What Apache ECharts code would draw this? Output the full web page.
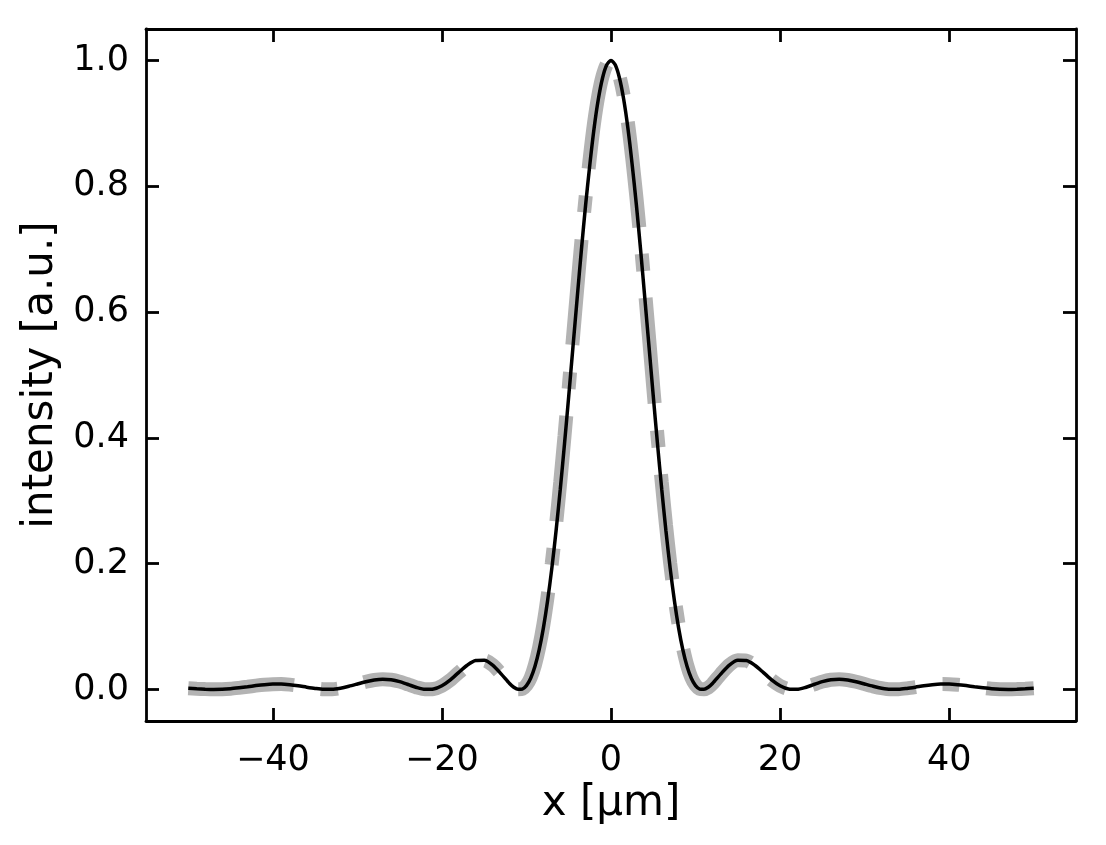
<!DOCTYPE html>
<html>
<head>
<meta charset="utf-8">
<script src="https://cdn.jsdelivr.net/npm/echarts@6/dist/echarts.min.js"></script>
<style>
html,body{margin:0;padding:0;background:#fff;}
#chart{width:1106px;height:845px;}
</style>
</head>
<body>
<div id="chart"></div>
<script>
// x positions [µm]
const xPos = [
  -50,-49,-48,-47,-46,-45,-44,-43,-42,-41,-40,-39,-38,-37,-36,-35,-34,-33,-32,-31,
  -30,-29,-28,-27,-26,-25,-24,-23,-22,-21,-20,-19,-18,-17,-16,-15,-14,-13,-12,
  -11.5,-11,-10.5,-10,-9.5,-9,-8.5,-8,-7.5,-7,-6.5,-6,-5.5,-5,-4.5,-4,-3.5,-3,-2.5,-2,-1.5,-1,-0.5,
  0,
  0.5,1,1.5,2,2.5,3,3.5,4,4.5,5,5.5,6,6.5,7,7.5,8,8.5,9,9.5,10,10.5,11,11.5,
  12,13,14,15,16,17,18,19,20,21,22,23,24,25,26,27,28,29,30,
  31,32,33,34,35,36,37,38,39,40,41,42,43,44,45,46,47,48,49,50
];

// black solid curve
const intensityLine = [
  0.0021,0.0013,0.0006,0.0002,0.0004,0.0013,0.0028,0.0045,0.0063,0.0078,0.0087,0.0087,0.0077,0.0060,0.0038,0.0018,0.0004,0.0004,0.0022,0.0052,
  0.0088,0.0125,0.0153,0.0165,0.0155,0.0125,0.0080,0.0033,0.0003,0.0008,0.0060,0.0154,0.0274,0.0387,0.0460,0.0464,0.0388,0.0249,0.0096,
  0.0037,0.0003,0.0008,0.0063,0.0179,0.0365,0.0629,0.0977,0.1410,0.1926,0.2520,0.3184,0.3904,0.4664,0.5445,0.6221,0.6991,0.7706,0.8349,0.8922,0.9382,0.9721,0.9930,
  1.0,
  0.9930,0.9721,0.9382,0.8922,0.8349,0.7706,0.6991,0.6221,0.5445,0.4664,0.3904,0.3184,0.2520,0.1926,0.1410,0.0977,0.0629,0.0365,0.0179,0.0063,0.0008,0.0003,0.0037,
  0.0096,0.0249,0.0388,0.0464,0.0460,0.0387,0.0274,0.0154,0.0060,0.0008,0.0003,0.0033,0.0080,0.0125,0.0155,0.0165,0.0153,0.0125,0.0088,
  0.0052,0.0022,0.0004,0.0004,0.0018,0.0038,0.0060,0.0077,0.0087,0.0087,0.0078,0.0063,0.0045,0.0028,0.0013,0.0004,0.0002,0.0006,0.0013,0.0021
];

// grey dash-dot curve
const intensityDash = [
  0.0022,0.0014,0.0007,0.0003,0.0004,0.0012,0.0027,0.0044,0.0062,0.0077,0.0086,0.0087,0.0078,0.0061,0.0039,0.0019,0.0005,0.0004,0.0021,0.0051,
  0.0087,0.0124,0.0152,0.0165,0.0156,0.0126,0.0081,0.0034,0.0004,0.0008,0.0058,0.0150,0.0270,0.0385,0.0460,0.0465,0.0390,0.0250,0.0090,
  0.0030,0.0003,0.0010,0.0070,0.0190,0.0390,0.0670,0.1030,0.1480,0.2010,0.2620,0.3300,0.4030,0.4800,0.5590,0.6370,0.7130,0.7830,0.8460,0.9010,0.9440,0.9750,0.9940,
  1.0,
  0.9940,0.9750,0.9440,0.9010,0.8460,0.7830,0.7130,0.6370,0.5590,0.4800,0.4030,0.3300,0.2620,0.2010,0.1480,0.1030,0.0670,0.0390,0.0190,0.0070,0.0010,0.0003,0.0030,
  0.0090,0.0250,0.0390,0.0465,0.0460,0.0385,0.0270,0.0150,0.0058,0.0008,0.0004,0.0034,0.0081,0.0126,0.0156,0.0165,0.0152,0.0124,0.0087,
  0.0051,0.0021,0.0004,0.0005,0.0019,0.0039,0.0061,0.0078,0.0087,0.0086,0.0077,0.0062,0.0044,0.0027,0.0012,0.0004,0.0003,0.0007,0.0014,0.0022
];

const xTicks = [-40, -20, 0, 20, 40];
const yTicks = [0.0, 0.2, 0.4, 0.6, 0.8, 1.0];
const xLabel = 'x [µm]';
const yLabel = 'intensity [a.u.]';

const FONT = 'DejaVu Sans';
const fmtX = v => String(v).replace('-', '\u2212');
const fmtY = v => Number(v).toFixed(1);

const spine = { show: true, onZero: false, lineStyle: { color: '#000', width: 2.8 } };
const tick = vals => ({ show: true, inside: true, length: 13, customValues: vals, lineStyle: { color: '#000', width: 2.8 } });

const chart = echarts.init(document.getElementById('chart'), null, { renderer: 'canvas' });
chart.setOption({
  animation: false,
  backgroundColor: '#ffffff',
  grid: { left: 146, right: 30, top: 29, bottom: 124, containLabel: false, outerBoundsMode: 'none' },
  xAxis: [
    {
      type: 'value', position: 'bottom', min: -55, max: 55,
      axisLine: spine, axisTick: tick(xTicks), splitLine: { show: false },
      axisLabel: { customValues: xTicks, formatter: fmtX, fontFamily: FONT, fontSize: 35, color: '#000', margin: 22 },
      name: xLabel, nameLocation: 'middle', nameGap: 49,
      nameTextStyle: { fontFamily: FONT, fontSize: 42, color: '#000' }
    },
    {
      type: 'value', position: 'top', min: -55, max: 55,
      axisLine: spine, axisTick: tick(xTicks), splitLine: { show: false },
      axisLabel: { show: false }
    }
  ],
  yAxis: [
    {
      type: 'value', position: 'left', min: -0.05, max: 1.05,
      axisLine: spine, axisTick: tick(yTicks), splitLine: { show: false },
      axisLabel: { customValues: yTicks, formatter: fmtY, fontFamily: FONT, fontSize: 35, color: '#000', margin: 17 },
      name: yLabel, nameLocation: 'middle', nameGap: 77, nameRotate: 90,
      nameTextStyle: { fontFamily: FONT, fontSize: 42, color: '#000' }
    },
    {
      type: 'value', position: 'right', min: -0.05, max: 1.05,
      axisLine: spine, axisTick: tick(yTicks), splitLine: { show: false },
      axisLabel: { show: false }
    }
  ],
  series: [
    {
      type: 'line', xAxisIndex: 0, yAxisIndex: 0,
      data: xPos.map((x, i) => [x, intensityDash[i]]),
      showSymbol: false, smooth: 0.25,
      lineStyle: { color: '#b3b3b3', width: 14, type: [106, 27, 17, 27], cap: 'butt' },
      z: 2
    },
    {
      type: 'line', xAxisIndex: 0, yAxisIndex: 0,
      data: xPos.map((x, i) => [x, intensityLine[i]]),
      showSymbol: false, smooth: 0.25,
      lineStyle: { color: '#000000', width: 3.5 },
      z: 3
    }
  ]
});
</script>
</body>
</html>
